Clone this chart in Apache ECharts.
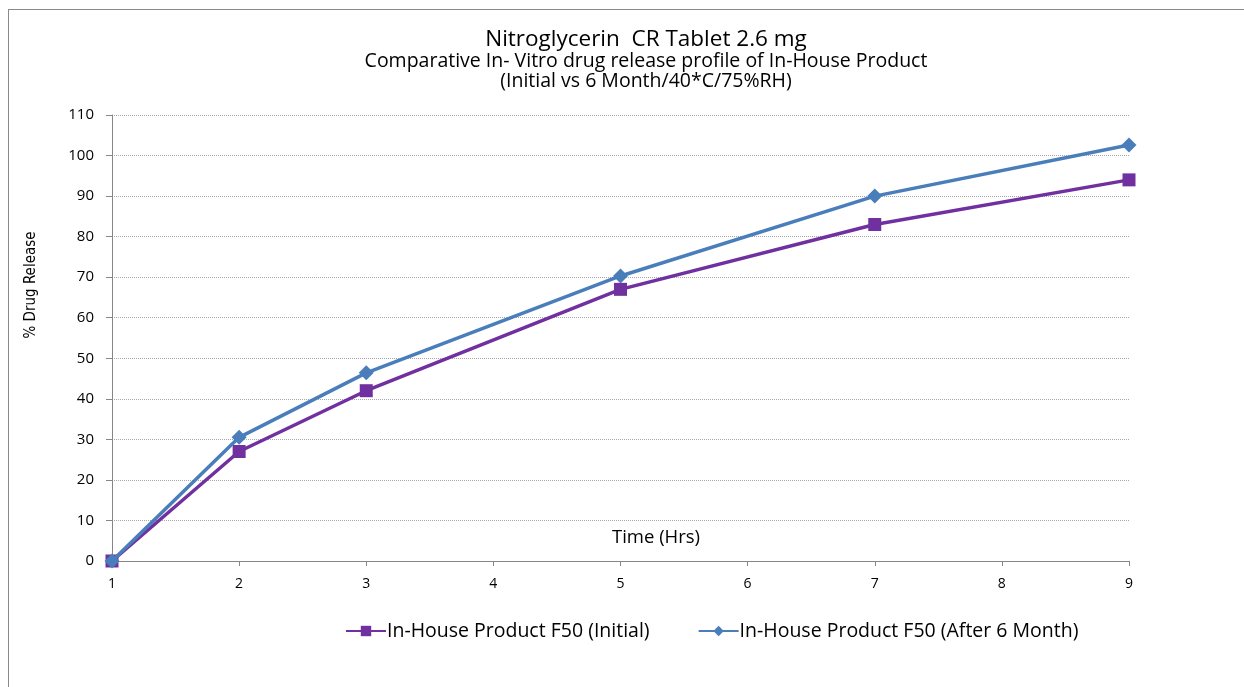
<!DOCTYPE html>
<html>
<head>
<meta charset="utf-8">
<script src="https://cdn.jsdelivr.net/npm/echarts@6/dist/echarts.min.js"></script>
<style>
  html, body { margin: 0; padding: 0; background: #fff; }
  .frame {
    position: absolute; left: 8px; top: 9px; width: 1300px; height: 760px;
    border-left: 1px solid #8a8a8a; border-top: 1px solid #8a8a8a;
  }
  #chart { position: absolute; left: 0; top: 0; width: 1244px; height: 687px; }
</style>
</head>
<body>
<div class="frame"></div>
<div id="chart"></div>
<script>
// time points (hrs) and % drug release
const hours = [1, 2, 3, 5, 7, 9]
const initialRelease = [0, 27, 42, 67, 83, 94]
const after6mRelease = [0, 30.5, 46.4, 70.3, 90, 102.6]
const seriesNames = ['In-House Product F50 (Initial)', 'In-House Product F50 (After 6 Month)']

const toPoints = (vals) => hours.map((h, i) => [h, vals[i]])

const chart = echarts.init(document.getElementById('chart'))
const font = '"Open Sans", "Liberation Sans", sans-serif'

chart.setOption({
  animation: false,
  backgroundColor: 'transparent',
  textStyle: { fontFamily: font },
  title: [
    {
      text: 'Nitroglycerin  CR Tablet 2.6 mg',
      left: 641, top: 23, textAlign: 'center',
      textStyle: { fontSize: 22.5, fontWeight: 'normal', color: '#000', fontFamily: font }
    },
    {
      text: 'Comparative In- Vitro drug release profile of In-House Product\n(Initial vs 6 Month/40*C/75%RH)',
      left: 641, top: 46, textAlign: 'center',
      textStyle: { fontSize: 19.5, fontWeight: 'normal', color: '#000', lineHeight: 20, fontFamily: font }
    }
  ],
  graphic: [
    {
      type: 'text', x: 656, y: 538,
      style: { text: 'Time (Hrs)', fontSize: 18.5, fill: '#000', fontFamily: font, align: 'center', verticalAlign: 'middle' }
    },
    {
      type: 'text', x: 31, y: 285, rotation: Math.PI / 2,
      style: {
        text: '% Drug Release', fontSize: 15, fill: '#000',
        fontFamily: '"DejaVu Sans Condensed", "Liberation Sans Narrow", sans-serif',
        align: 'center', verticalAlign: 'middle'
      }
    }
  ],
  legend: {
    data: seriesNames,
    left: 340, top: 616,
    itemWidth: 40, itemHeight: 13, itemGap: 48,
    textStyle: { fontSize: 19.5, color: '#000', fontFamily: font, padding: [0, 0, 0, -4] }
  },
  grid: { left: 112, right: 115, top: 115, bottom: 126, containLabel: false },
  xAxis: {
    type: 'value', min: 1, max: 9, interval: 1,
    axisLine: { lineStyle: { color: '#868686', width: 1 } },
    axisTick: { show: true, length: 5, lineStyle: { color: '#868686' } },
    axisLabel: { color: '#000', fontSize: 14, margin: 16 },
    splitLine: { show: false }
  },
  yAxis: {
    type: 'value', min: 0, max: 110, interval: 10,
    axisLine: { show: true, lineStyle: { color: '#868686', width: 1 } },
    axisTick: { show: true, length: 6, lineStyle: { color: '#868686' } },
    axisLabel: { color: '#000', fontSize: 15, margin: 18 },
    splitLine: { lineStyle: { color: '#a8a8a8', type: [1, 1], width: 1 } }
  },
  series: [
    {
      name: seriesNames[0], type: 'line',
      data: toPoints(initialRelease),
      symbol: 'rect', symbolSize: 13,
      lineStyle: { color: '#7030a0', width: 3.5 },
      itemStyle: { color: '#7030a0' },
      z: 2
    },
    {
      name: seriesNames[1], type: 'line',
      data: toPoints(after6mRelease),
      symbol: 'diamond', symbolSize: 15,
      lineStyle: { color: '#4a7ebb', width: 3.5 },
      itemStyle: { color: '#4a7ebb' },
      z: 3
    }
  ]
})
</script>
</body>
</html>
